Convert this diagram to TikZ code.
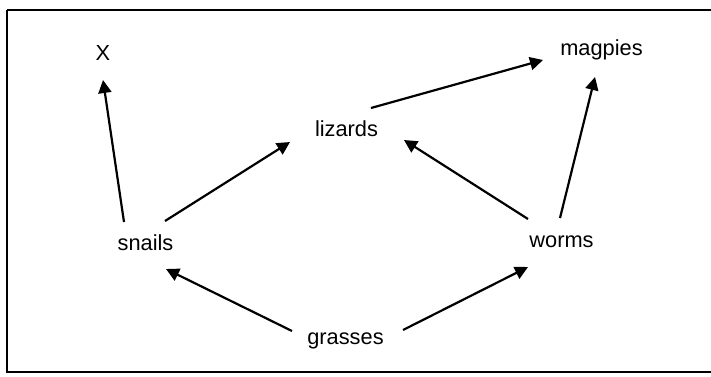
\documentclass[tikz,border=0pt]{standalone}
\usepackage{fontspec}
\setmainfont{Liberation Sans}
\usepackage{tikz}
\usetikzlibrary{arrows.meta, positioning}

\begin{document}
\begin{tikzpicture}[x=0.5pt, y=-0.5pt,
  lbl/.style={inner sep=0pt, text height=7.5pt, text depth=2pt, font=\fontsize{10.9}{12}\selectfont},
  arr/.style={-{Triangle[length=6.5pt, width=6.5pt]}, line width=1.1pt},
  frame/.style={line width=1.1pt}
]
\useasboundingbox (0,0) rectangle (711,376);
\draw[frame] (7,10) -- (714,10) (7,10) -- (7,372) -- (714,372);
% Organisms
\node[lbl] (x) at (103,54.5) {X};
\node[lbl] (magpies) at (601.5,49.5) {magpies};
\node[lbl] (lizards) at (346.5,130.5) {lizards};
\node[lbl] (snails) at (145.5,244.5) {snails};
\node[lbl] (worms) at (561.5,241.5) {worms};
\node[lbl] (grasses) at (345.5,338.5) {grasses};
% Feeding links
\draw[arr] ([shift={(-21.5,-22.5)}]snails.center) -- ([shift={(0,25.5)}]x.center);
\draw[arr] ([shift={(19.5,-23.5)}]snails.center) -- ([shift={(-56.5,11.5)}]lizards.center);
\draw[arr] ([shift={(24.5,-22.5)}]lizards.center) -- ([shift={(-58.5,10.5)}]magpies.center);
\draw[arr] ([shift={(-33.5,-22.5)}]worms.center) -- ([shift={(57.5,9.5)}]lizards.center);
\draw[arr] ([shift={(-1.5,-23.5)}]worms.center) -- ([shift={(-6.5,27.5)}]magpies.center);
\draw[arr] ([shift={(-53.5,-7.5)}]grasses.center) -- ([shift={(20.5,24.5)}]snails.center);
\draw[arr] ([shift={(57.5,-8.5)}]grasses.center) -- ([shift={(-33.5,25.5)}]worms.center);
\end{tikzpicture}
\end{document}
